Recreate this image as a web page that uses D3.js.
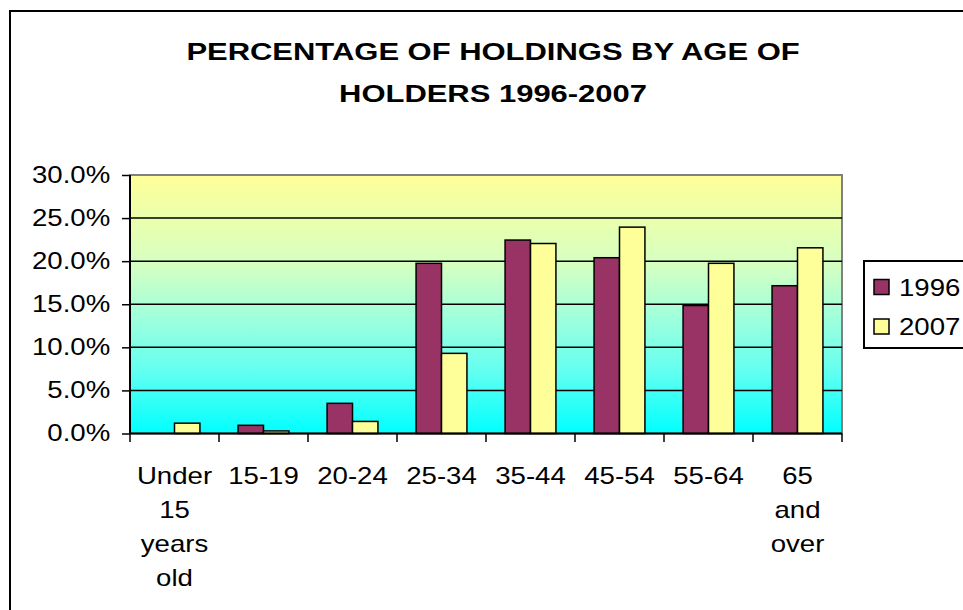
<!DOCTYPE html>
<html>
<head>
<meta charset="utf-8">
<script src="https://cdn.jsdelivr.net/npm/d3@7"></script>
<style>
	body { margin: 0; background: #fff; }
	text { font-family: Arial, "Liberation Sans", sans-serif; fill: #000; }
</style>
</head>
<body>
<div id="chartDiv"></div>
<script>
; (function () {

	var categories = [["Under", "15", "years", "old"], ["15-19"], ["20-24"], ["25-34"], ["35-44"], ["45-54"], ["55-64"], ["65", "and", "over"]];
	var seriesNames = ["1996", "2007"];
	var values1996 = [0, 0.95, 3.5, 19.75, 22.45, 20.4, 14.85, 17.15];
	var values2007 = [1.2, 0.3, 1.4, 9.3, 22.05, 23.95, 19.75, 21.55];
	var yTicks = [0, 5, 10, 15, 20, 25, 30];
	var titleLines = ["PERCENTAGE OF HOLDINGS BY AGE OF", "HOLDERS 1996-2007"];
	var colors = { "1996": "#993366", "2007": "#FFFF99" };

	var width = 963;
	var height = 610;
	var plot = { left: 130, top: 175, right: 842, bottom: 433.5 };
	var stretch = 1.2; // the picture text is a bit wide

	var chart;

	init();

	function init() {
		chart = d3.select("#chartDiv").append("svg")
			.attr("width", width)
			.attr("height", height);

		// outer chart border, runs off the right and bottom edge
		chart.append("rect")
			.attr("x", 10).attr("y", 11)
			.attr("width", 1000).attr("height", 700)
			.attr("fill", "#fff")
			.attr("stroke", "#000")
			.attr("stroke-width", 2);

		drawTitle();
		drawPlot();
		drawLegend();
	}

	function drawTitle() {
		titleLines.forEach(function (line, i) {
			chart.append("text")
				.attr("text-anchor", "middle")
				.attr("transform", "translate(493," + (59.5 + i * 42) + ") scale(1.29,1)")
				.style("font-size", "24px")
				.style("font-weight", "bold")
				.text(line);
		});
	}

	function drawPlot() {
		var chartWidth = plot.right - plot.left;
		var chartHeight = plot.bottom - plot.top;

		var keys = categories.map(function (c) { return c.join(" "); });

		var x0 = d3.scaleBand()
			.domain(keys)
			.range([0, chartWidth]);

		var x1 = d3.scaleBand()
			.domain(seriesNames)
			.range([0, x0.bandwidth()])
			.paddingOuter(0.75);

		var y = d3.scaleLinear()
			.domain([0, 30])
			.range([chartHeight, 0]);

		var defs = chart.append("defs");
		var grad = defs.append("linearGradient")
			.attr("id", "bg")
			.attr("x1", 0).attr("y1", 0).attr("x2", 0).attr("y2", 1);
		[["0%", "#FFFF99"], ["35%", "#D4FFC2"], ["55%", "#A0FFDC"], ["75%", "#66FFF0"], ["100%", "#00FFFF"]].forEach(function (s) {
			grad.append("stop").attr("offset", s[0]).attr("stop-color", s[1]);
		});

		var g = chart.append("g")
			.attr("transform", "translate(" + plot.left + "," + plot.top + ")");

		g.append("rect")
			.attr("width", chartWidth)
			.attr("height", chartHeight)
			.attr("fill", "url(#bg)")
			.attr("stroke", "#808080")
			.attr("stroke-width", 2);

		// gridlines
		g.selectAll(".grid")
			.data(yTicks.filter(function (t) { return t > 0 && t < 30; }))
			.enter().append("line")
			.attr("class", "grid")
			.attr("x1", 0).attr("x2", chartWidth)
			.attr("y1", function (d) { return y(d); })
			.attr("y2", function (d) { return y(d); })
			.attr("stroke", "#000")
			.attr("stroke-width", 1.5);

		var rows = categories.map(function (c, i) {
			return { key: keys[i], vals: [values1996[i], values2007[i]] };
		});

		var groups = g.selectAll(".cat")
			.data(rows)
			.enter().append("g")
			.attr("class", "cat")
			.attr("transform", function (d) { return "translate(" + x0(d.key) + ",0)"; });

		groups.selectAll("rect")
			.data(function (d) {
				return d.vals.map(function (v, j) { return { name: seriesNames[j], value: v }; });
			})
			.enter().append("rect")
			.filter(function (d) { return d.value > 0; })
			.attr("x", function (d) { return x1(d.name); })
			.attr("width", x1.bandwidth())
			.attr("y", function (d) { return y(d.value); })
			.attr("height", function (d) { return chartHeight - y(d.value); })
			.attr("fill", function (d) { return colors[d.name]; })
			.attr("stroke", "#000")
			.attr("stroke-width", 1.5);

		// y axis
		var yAxis = d3.axisLeft(y)
			.tickValues(yTicks)
			.tickSize(8)
			.tickPadding(8.5)
			.tickFormat(function (d) { return d3.format(".1f")(d) + "%"; });

		var yAxisG = g.append("g").call(yAxis);
		yAxisG.select(".domain").attr("stroke-width", 2).attr("d", "M0,0V" + chartHeight);
		yAxisG.selectAll(".tick line").attr("stroke-width", 1.5);
		yAxisG.selectAll(".tick text")
			.style("font-size", "23px")
			.attr("font-family", null)
			.attr("transform", "scale(" + stretch + ",1)");

		// x axis line and ticks at category boundaries
		g.append("line")
			.attr("x1", 0).attr("x2", chartWidth)
			.attr("y1", chartHeight).attr("y2", chartHeight)
			.attr("stroke", "#000").attr("stroke-width", 2);

		var bounds = keys.map(function (k) { return x0(k); }).concat([chartWidth]);
		g.selectAll(".xtick")
			.data(bounds)
			.enter().append("line")
			.attr("class", "xtick")
			.attr("x1", function (d) { return d; }).attr("x2", function (d) { return d; })
			.attr("y1", chartHeight).attr("y2", chartHeight + 8.5)
			.attr("stroke", "#000").attr("stroke-width", 1.5);

		// x labels, several lines each
		var labels = g.selectAll(".xlabel")
			.data(categories)
			.enter().append("g")
			.attr("class", "xlabel")
			.attr("transform", function (d, i) {
				return "translate(" + (x0(keys[i]) + x0.bandwidth() / 2) + "," + (chartHeight + 50.5) + ") scale(" + stretch + ",1)";
			});

		labels.selectAll("text")
			.data(function (d) { return d; })
			.enter().append("text")
			.attr("text-anchor", "middle")
			.attr("y", function (d, i) { return i * 34; })
			.style("font-size", "23px")
			.text(function (d) { return d; });
	}

	function drawLegend() {
		var lg = chart.append("g")
			.attr("transform", "translate(864,261)");

		lg.append("rect")
			.attr("width", 130)
			.attr("height", 87)
			.attr("fill", "#fff")
			.attr("stroke", "#000")
			.attr("stroke-width", 2);

		var items = lg.selectAll(".item")
			.data(seriesNames)
			.enter().append("g")
			.attr("class", "item")
			.attr("transform", function (d, i) { return "translate(10," + (18.5 + i * 39.5) + ")"; });

		items.append("rect")
			.attr("width", 15)
			.attr("height", 15)
			.attr("fill", function (d) { return colors[d]; })
			.attr("stroke", "#000")
			.attr("stroke-width", 1.5);

		items.append("text")
			.attr("transform", "translate(25,16) scale(" + stretch + ",1)")
			.style("font-size", "23px")
			.text(function (d) { return d; });
	}

})();
</script>
</body>
</html>
